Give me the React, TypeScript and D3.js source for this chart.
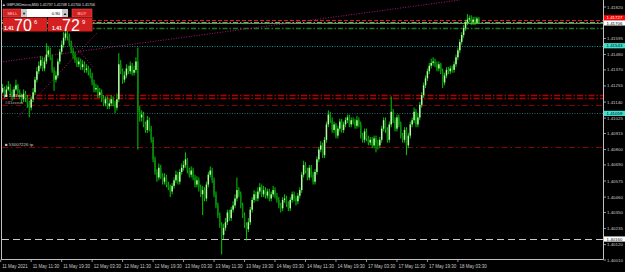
import React from "react";
import * as d3 from "d3";

// GBPUSDmicro M30 — prices stored in pips above 1.40000 (price = 1.4 + pips/10000)
const closePips = [
  121,124,119,123,125,121,118,123,126,121,118,116,
  120,117,113,110,116,121,130,136,140,144,138,143,
  148,151,146,137,130,133,143,150,155,160,163,161,
  156,151,148,144,141,143,139,141,137,138,136,133,
  128,123,124,119,121,117,113,116,111,113,116,113,
  110,116,141,136,130,133,138,136,140,135,137,143,
  107,103,105,98,94,101,95,87,73,64,60,67,
  61,57,60,55,53,50,54,58,62,57,64,67,
  69,73,65,62,65,60,55,58,53,48,51,45,
  55,62,65,58,48,40,33,26,19,24,28,35,
  31,37,40,45,51,48,40,33,26,23,28,37,
  44,48,45,50,53,48,51,47,50,45,48,51,
  47,44,40,38,44,45,41,38,44,48,45,43,
  47,51,62,69,65,60,67,62,57,64,73,80,
  83,76,87,98,105,101,94,98,90,95,100,94,
  98,101,103,98,101,100,97,101,98,90,87,93,
  88,85,87,83,88,85,83,87,95,101,94,87,
  98,107,101,95,103,98,90,87,94,83,90,98,
  101,107,98,103,112,119,126,131,136,140,142,143,
  141,138,141,136,128,133,137,136,138,137,141,146,
  151,157,162,167,171,173,174,171,173,171,173.7,170.6,
];
const highPips = [
  124,127,125,126,129,127,123,125,130,127,123,120,
  123,122,119,115,118,124,132,139,143,147,146,146,
  156,154,153,148,139,136,145,152,158,164,166,165,
  163,158,153,150,146,146,145,144,143,141,140,138,
  135,130,127,126,124,123,119,118,118,116,119,118,
  115,120,149,144,138,136,141,140,143,142,140,146,
  153,111,108,107,100,104,103,97,89,75,66,70,
  69,63,63,62,57,55,56,60,65,64,66,70,
  72,78,74,67,68,67,62,61,60,55,54,53,
  57,64,68,67,60,50,42,35,28,27,31,37,
  37,39,43,48,60,53,50,42,35,28,31,39,
  46,51,50,53,56,55,54,53,52,52,50,54,
  53,49,46,42,46,48,47,43,46,50,50,47,
  49,53,64,72,71,67,69,69,64,66,75,82,
  86,85,89,100,108,107,103,100,99,97,102,102,
  100,103,105,105,103,103,102,104,103,100,92,95,
  95,90,89,89,90,90,87,89,97,103,103,96,
  100,118,109,103,105,105,100,92,96,96,92,100,
  103,110,109,106,114,121,128,133,138,142,145,146,
  145,143,143,142,138,135,139,139,140,140,143,148,
  153,159,164,169,173,177,176,176,175,175,175,174.8,
];
const lowPips = [
  117,120,117,118,122,119,115,116,122,119,116,113,
  114,114,110,103,108,114,119,128,134,138,136,136,
  141,146,144,135,122,128,131,141,148,153,158,158,
  154,149,145,142,139,139,137,137,135,135,133,131,
  126,121,121,117,117,114,111,111,109,109,111,111,
  106,108,114,134,127,128,131,134,134,133,133,135,
  80,100,100,96,92,92,93,85,71,62,57,58,
  59,55,55,53,51,46,48,52,56,55,55,62,
  65,67,63,60,60,58,53,53,50,46,33,43,
  43,53,60,56,46,38,31,24,5,16,22,26,
  29,29,35,38,43,46,38,31,24,15,21,26,
  35,42,43,43,48,46,46,45,45,43,43,46,
  45,42,38,35,36,42,39,36,36,42,43,40,
  41,45,49,60,63,58,58,60,55,55,62,71,
  78,74,74,85,96,99,92,92,88,88,93,92,
  92,96,99,96,96,98,95,95,96,88,85,85,
  86,83,83,81,81,78,80,81,85,93,92,85,
  85,96,99,93,93,96,88,85,85,76,81,88,
  96,99,96,96,101,110,117,124,129,134,138,140,
  139,136,136,134,124,126,131,134,134,135,135,139,
  144,149,155,160,165,169,171,169,169,169,170,170,
];
const firstOpenPips = 119;

const priceTicks = [1.4182, 1.41705, 1.41595, 1.4148, 1.4137, 1.41255, 1.4114, 1.41025, 1.40915, 1.408, 1.4069, 1.40575, 1.4046, 1.4035, 1.40235, 1.4012, 1.4001];
const timeLabels = ["11 May 2021", "11 May 11:30", "11 May 19:30", "12 May 03:30", "12 May 11:30", "12 May 19:30", "13 May 03:30", "13 May 11:30", "13 May 19:30", "14 May 03:30", "14 May 11:30", "14 May 19:30", "17 May 03:30", "17 May 11:30", "17 May 19:30", "18 May 03:30"];
const barsPerLabel = 16;

// horizontal levels
const levels = [
  { p: 1.41727, color: "#ff1010", w: 1, dash: "4,2" },
  { p: 1.41716, color: "#3ad23a", w: 1, dash: "5,2,1.5,2" },
  { p: 1.41706, color: "#9a9a9a", w: 0.8, dash: "" },
  { p: 1.4167, color: "#1e7a1e", w: 1.6, dash: "5,2,1.5,2" },
  { p: 1.41543, color: "#20b2aa", w: 0.8, dash: "1,1.5" },
  { p: 1.41188, color: "#b00000", w: 1.3, dash: "6,2,1.5,2" },
  { p: 1.41172, color: "#b00000", w: 1.3, dash: "6,2,1.5,2" },
  { p: 1.41119, color: "#b00000", w: 0.8, dash: "6,3,1.5,3" },
  { p: 1.41059, color: "#2f7f7f", w: 0.8, dash: "1,1.5" },
  { p: 1.40818, color: "#b00000", w: 0.8, dash: "6,3,1.5,3" },
  { p: 1.4016, color: "#c8c8c8", w: 1, dash: "7,4" },
];
const priceBoxes = [
  { p: 1.41727, text: "1.41727", bg: "#ff0000", fg: "#ffffff" },
  { p: 1.41706, text: "1.41706", bg: "#ffffff", fg: "#000000" },
  { p: 1.41543, text: "1.41543", bg: "#40e0d0", fg: "#000000" },
  { p: 1.41059, text: "1.41059", bg: "#40e0d0", fg: "#000000" },
  { p: 1.4016, text: "1.40160", bg: "#ffffff", fg: "#000000" },
];
// trend lines (bar index, price)
const trendLines = [
  { i1: 0, p1: 1.41426, i2: 241, p2: 1.4187 },
  { i1: 9, p1: 1.41033, i2: 50.5, p2: 1.41634 },
  { i1: 32.7, p1: 1.41634, i2: 48.5, p2: 1.41391 },
];

const W = 625, H = 272;
const plotL = 2, plotR = 603.5, plotB = 259.5;
const BOX_H = 5.2;

export default function App() {
  const pip = (v: number) => 1.4 + v / 10000;
  const x = d3.scaleLinear().domain([0, 315]).range([0.7, 0.7 + 1.905 * 315]);
  const y = d3.scaleLinear().domain([1.4001, 1.4182]).range([260, 7]);

  const candles = closePips.map((c, i) => {
    const o = i === 0 ? firstOpenPips : closePips[i - 1];
    return { i, o: pip(o), c: pip(c), h: pip(highPips[i]), l: pip(lowPips[i]) };
  });

  // stack price boxes so that they don't overlap (push upper ones up)
  const boxes = priceBoxes.map((b) => ({ ...b, cy: y(b.p) })).sort((a, b) => a.cy - b.cy);
  for (let k = boxes.length - 2; k >= 0; k--) {
    if (boxes[k + 1].cy - boxes[k].cy < BOX_H) boxes[k].cy = boxes[k + 1].cy - BOX_H;
  }
  const visibleTicks = priceTicks.filter((p) => boxes.every((b) => Math.abs(y(p) - b.cy) > 4.6));

  const font = "'Liberation Sans', Arial, sans-serif";

  return (
    <svg width={W} height={H} style={{ position: "absolute", left: 0, top: 0, background: "#000" }}>
      <defs>
        <clipPath id="plot"><rect x={plotL} y={0} width={plotR - plotL} height={plotB} /></clipPath>
      </defs>
      <rect x={0} y={0} width={W} height={H} fill="#000" />
      <g clipPath="url(#plot)">
        {levels.map((l, k) => (
          <line key={k} x1={plotL} x2={plotR} y1={Math.round(y(l.p)) + 0.5} y2={Math.round(y(l.p)) + 0.5}
            stroke={l.color} strokeWidth={l.w} strokeDasharray={l.dash || undefined} />
        ))}
        {trendLines.map((t, k) => (
          <line key={k} x1={x(t.i1)} y1={y(t.p1)} x2={x(t.i2)} y2={y(t.p2)} stroke="#c0187a" strokeWidth={0.9} strokeDasharray="1,1.6" />
        ))}
        {candles.map((d) => {
          const cx = x(d.i);
          const top = y(Math.max(d.o, d.c));
          const bot = y(Math.min(d.o, d.c));
          const bull = d.c >= d.o;
          return (
            <g key={d.i}>
              <line x1={cx} x2={cx} y1={y(d.h)} y2={y(d.l)} stroke="#00ff00" strokeWidth={0.8} />
              <rect x={cx - 0.75} y={top} width={1.5} height={Math.max(0.8, bot - top)} fill={bull ? "#b8f7a8" : "#0a8a0a"} />
            </g>
          );
        })}
      </g>
      {/* frame */}
      <line x1={1.5} x2={1.5} y1={0} y2={plotB} stroke="#c0c0c0" strokeWidth={1} />
      <line x1={plotR} x2={plotR} y1={0} y2={plotB} stroke="#c0c0c0" strokeWidth={1} />
      <line x1={1} x2={plotR} y1={plotB} y2={plotB} stroke="#c0c0c0" strokeWidth={1} />
      {/* price axis */}
      {visibleTicks.map((p, k) => (
        <g key={k}>
          <line x1={plotR} x2={plotR + 2.5} y1={y(p)} y2={y(p)} stroke="#c0c0c0" strokeWidth={0.8} />
          <text x={607} y={y(p) + 1.5} fontSize={4.4} fill="#c8c8c8" fontFamily={font}>{p.toFixed(5)}</text>
        </g>
      ))}
      {boxes.map((b, k) => (
        <g key={k}>
          <rect x={plotR + 0.5} y={b.cy - BOX_H / 2} width={W - plotR} height={BOX_H} fill={b.bg} />
          <text x={606.5} y={b.cy + 1.6} fontSize={4.4} fill={b.fg} fontFamily={font}>{b.text}</text>
        </g>
      ))}
      {/* time axis */}
      {timeLabels.map((t, k) => {
        const tx = x(k * barsPerLabel);
        return (
          <g key={k}>
            <line x1={tx} x2={tx} y1={plotB} y2={plotB + 2.5} stroke="#c0c0c0" strokeWidth={0.8} />
            <text x={tx + 1.5} y={268} fontSize={4.5} fill="#c8c8c8" fontFamily={font}>{t}</text>
          </g>
        );
      })}
      {/* header */}
      <text x={2} y={5.5} fontSize={4.3} fill="#e0e0e0" fontFamily={font} textLength={93} lengthAdjust="spacingAndGlyphs">▲ GBPUSDmicro,M30  1.41737 1.41748 1.41700 1.41706</text>
      {/* left labels */}
      <text x={5} y={97} fontSize={4.4} fill="#e8e8e8" fontFamily={font}>■ 1.41xxx</text>
      <text x={5} y={104} fontSize={4.4} fill="#b0b0b0" fontFamily={font}>#41xxxxx</text>
      <text x={5} y={145.5} fontSize={4.4} fill="#c8c8c8" fontFamily={font}>■ 53007226 tp</text>
      {/* one-click trading panel */}
      <g fontFamily={font}>
        <rect x={3} y={9} width={19} height={8} fill="#d42020" stroke="#f06060" strokeWidth={0.5} />
        <text x={12.5} y={14.7} fontSize={4.3} fill="#ffd0d0" textAnchor="middle">SELL</text>
        <rect x={21} y={9} width={6} height={8} fill="#c8c8c8" />
        <text x={24} y={14.5} fontSize={4} fill="#000" textAnchor="middle">▼</text>
        <rect x={27} y={9} width={35} height={8} fill="#ffffff" />
        <text x={60} y={14.7} fontSize={4.3} fill="#000" textAnchor="end">0.90</text>
        <rect x={62} y={9} width={6} height={8} fill="#c8c8c8" />
        <text x={65} y={14.5} fontSize={4} fill="#000" textAnchor="middle">▲</text>
        <rect x={72} y={9} width={20} height={8} fill="#d42020" stroke="#f06060" strokeWidth={0.5} />
        <text x={82} y={14.7} fontSize={4.3} fill="#ffd0d0" textAnchor="middle">BUY</text>
        <rect x={3} y={17.5} width={44} height={14} fill="#d42020" />
        <rect x={48} y={17.5} width={44.5} height={14} fill="#d42020" />
        <text x={4} y={30} fontSize={5} fontWeight="bold" fill="#fff">1.41</text>
        <text x={14} y={30.5} fontSize={16} fill="#fff">70</text>
        <text x={34} y={23.5} fontSize={6} fill="#fff">6</text>
        <text x={52} y={30} fontSize={5} fontWeight="bold" fill="#fff">1.41</text>
        <text x={62} y={30.5} fontSize={16} fill="#fff">72</text>
        <text x={82} y={23.5} fontSize={6} fill="#fff">9</text>
      </g>
    </svg>
  );
}
